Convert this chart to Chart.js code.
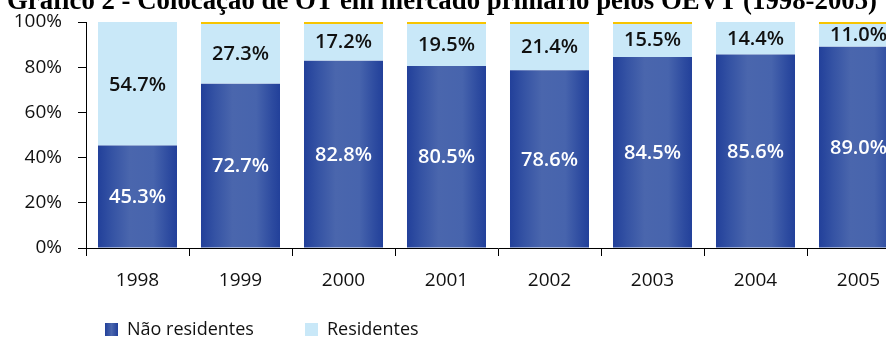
<!DOCTYPE html>
<html>
<head>
<meta charset="utf-8">
<script src="https://cdn.jsdelivr.net/npm/chart.js@4/dist/chart.umd.min.js"></script>
<style>
body { margin: 0; overflow: hidden; background: #fff; width: 886px; height: 338px; position: relative; }
#wrap { position: absolute; left: 0; top: 0; width: 930px; height: 338px; }
#title { position: absolute; left: 7px; top: -13px; font: bold 26.8px "Liberation Serif", "Times New Roman", serif; line-height: 27px; white-space: nowrap; color: #000; }
.leg { position: absolute; top: 316px; font: 18px "Open Sans", sans-serif; color: #111; white-space: nowrap; line-height: 24px; }
.sw { display: inline-block; width: 13px; height: 13px; margin-right: 9px; vertical-align: -1px; }
</style>
</head>
<body>
<div id="wrap"><canvas id="barChart"></canvas></div>
<div id="title">Gráfico 2 - Colocação de OT em mercado primário pelos OEVT (1998-2005)</div>
<div class="leg" style="left:105px"><span class="sw" style="background:linear-gradient(90deg,#22409a,#4a66ad 50%,#22409a)"></span>Não residentes</div>
<div class="leg" style="left:305px"><span class="sw" style="background:#c9e8f8"></span>Residentes</div>
<script>
var years = ['1998', '1999', '2000', '2001', '2002', '2003', '2004', '2005'];
var naoResidentes = [45.3, 72.7, 82.8, 80.5, 78.6, 84.5, 85.6, 89.0];
var residentes = [54.7, 27.3, 17.2, 19.5, 21.4, 15.5, 14.4, 11.0];
// thin yellow edge on top of some columns in the original
var topEdge = [0, 1, 1, 1, 1, 1, 0, 1];

var barPct = 0.767;

function blueGradient(c) {
    var chart = c.chart;
    var xs = chart.scales.x;
    if (!chart.chartArea || !xs) return '#3a58a6';
    var cw = xs.getPixelForValue(1) - xs.getPixelForValue(0);
    var bw = cw * barPct;
    var cx = xs.getPixelForValue(c.dataIndex);
    var g = chart.ctx.createLinearGradient(cx - bw / 2, 0, cx + bw / 2, 0);
    g.addColorStop(0, '#22409a');
    g.addColorStop(0.18, '#3553a4');
    g.addColorStop(0.4, '#4a66ad');
    g.addColorStop(0.7, '#4764ad');
    g.addColorStop(0.9, '#2d4ba0');
    g.addColorStop(1, '#22409a');
    return g;
}

var valueLabels = {
    id: 'valueLabels',
    afterDatasetsDraw: function(chart) {
        var ctx = chart.ctx;
        ctx.save();
        ctx.font = '600 20px "Open Sans", sans-serif';
        ctx.textAlign = 'center';
        ctx.textBaseline = 'middle';
        chart.data.datasets.forEach(function(ds, i) {
            var meta = chart.getDatasetMeta(i);
            ctx.fillStyle = i === 0 ? '#ffffff' : '#111111';
            meta.data.forEach(function(bar, j) {
                var p = bar.getProps(['x', 'y', 'base'], true);
                ctx.fillText(ds.data[j].toFixed(1) + '%', p.x, (p.y + p.base) / 2 + 1);
            });
        });
        ctx.restore();
    }
};

var ctx = document.getElementById('barChart').getContext('2d');
var chart = new Chart(ctx, {
    type: 'bar',
    data: {
        labels: years,
        datasets: [{
            label: 'Não residentes',
            data: naoResidentes,
            backgroundColor: blueGradient,
            borderWidth: 0
        }, {
            label: 'Residentes',
            data: residentes,
            backgroundColor: '#c9e8f8',
            borderColor: '#f7c400',
            borderWidth: function(c) {
                return topEdge[c.dataIndex] ? { top: 2, left: 0, right: 0, bottom: 0 } : 0;
            }
        }]
    },
    options: {
        responsive: true,
        maintainAspectRatio: false,
        animation: false,
        categoryPercentage: 1,
        barPercentage: barPct,
        layout: { padding: { top: 22, right: 20, left: 0, bottom: 0 } },
        plugins: {
            legend: { display: false },
            title: { display: false },
            tooltip: { enabled: false }
        },
        scales: {
            x: {
                stacked: true,
                offset: true,
                grid: { offset: true, drawOnChartArea: false, tickLength: 8, color: '#000' },
                border: { color: '#000', width: 1 },
                ticks: { color: '#111', padding: 13, font: { family: 'Open Sans', size: 19 } },
                afterFit: function(s) { s.height = 90; s.paddingLeft = 0; s.paddingRight = 0; }
            },
            y: {
                stacked: true,
                min: 0,
                max: 100,
                grid: { drawOnChartArea: false, tickLength: 8, color: '#000' },
                border: { color: '#000', width: 1 },
                ticks: {
                    stepSize: 20,
                    color: '#111',
                    padding: 16,
                    font: { family: 'Open Sans', size: 19 },
                    callback: function(v) { return v + '%'; }
                },
                afterFit: function(s) { s.width = 86; s.paddingTop = 0; s.paddingBottom = 0; }
            }
        }
    },
    plugins: [valueLabels]
});
</script>
</body>
</html>
